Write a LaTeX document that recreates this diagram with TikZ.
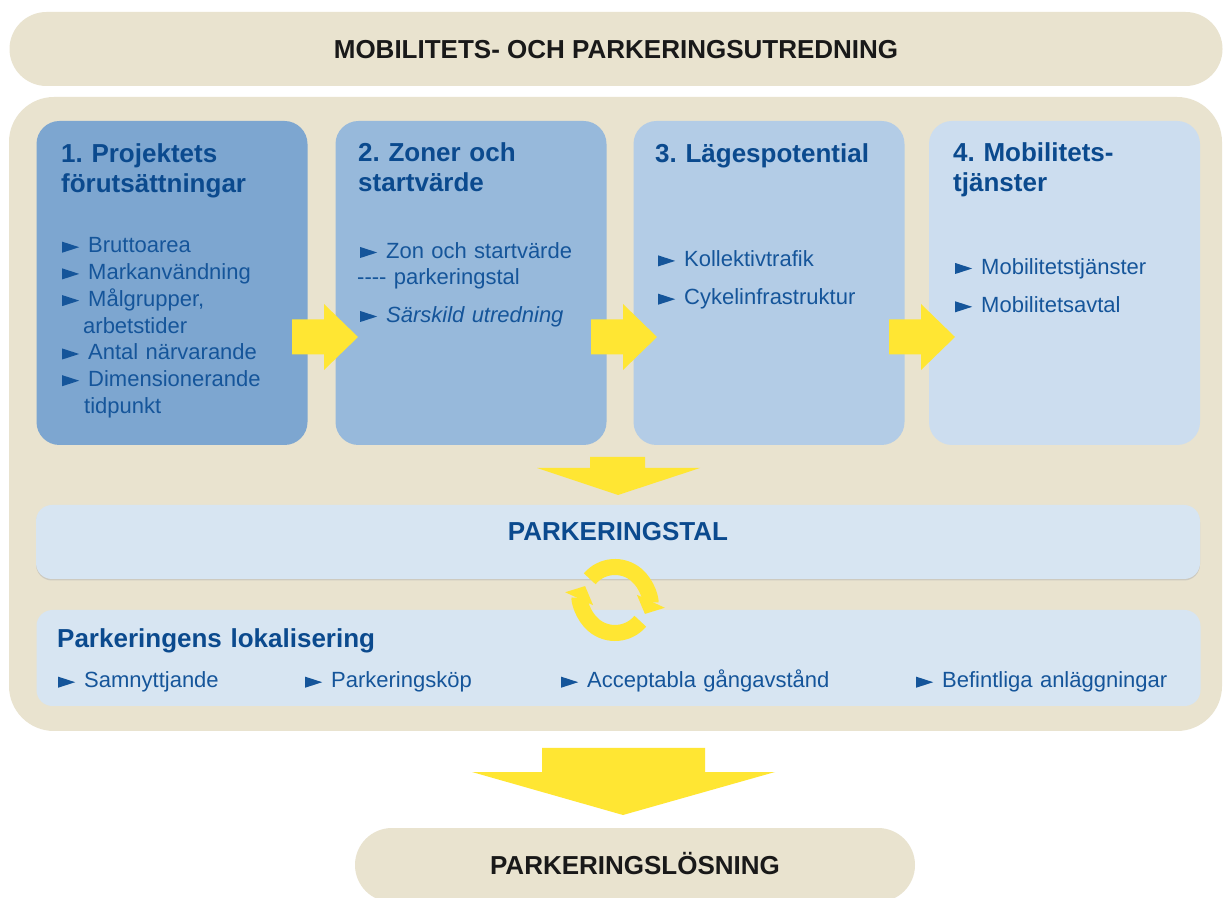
\documentclass[tikz,border=0pt]{standalone}
\usepackage{fontspec}
\setmainfont{Liberation Sans}
\usetikzlibrary{arrows.meta,shadows}
\frenchspacing

\definecolor{sand}{HTML}{E9E3CF}
\definecolor{stepone}{HTML}{7DA6D0}
\definecolor{steptwo}{HTML}{97B9DB}
\definecolor{stepthree}{HTML}{B3CCE6}
\definecolor{stepfour}{HTML}{CCDDEF}
\definecolor{pale}{HTML}{D7E5F2}
\definecolor{flowyellow}{HTML}{FFE633}
\definecolor{ink}{HTML}{0B4A8E}
\definecolor{listink}{HTML}{15559A}

% bullet of the lists: a wide triangle on the baseline
\newcommand{\pointer}{\tikz[baseline=0pt]\fill[listink] (0pt,0.3pt) -- (17pt,5.8pt) -- (0pt,11.3pt) -- cycle;\hspace{9pt}}

\tikzset{
  pill/.style={fill=sand, rounded corners=37pt, minimum height=74pt, inner sep=0pt,
    text height=18.6pt, text depth=0pt, text=black!90,
    font=\fontsize{26}{30}\selectfont\bfseries},
  stepbox/.style={rounded corners=23pt, minimum width=271pt, minimum height=324pt, inner sep=0pt},
  palebox/.style={fill=pale, rounded corners=16pt, minimum width=1164pt, inner sep=0pt},
  steptitle/.style={anchor=base west, inner sep=0pt, text width=250pt, align=left,
    text=ink, font=\fontsize{26}{30}\selectfont\bfseries},
  steplist/.style={anchor=base west, inner sep=0pt, text width=250pt, align=left,
    text=listink, font=\fontsize{22}{26.7}\selectfont},
  flow/.style={fill=flowyellow},
}

\begin{document}
\begin{tikzpicture}[x=1pt,y=1pt]
  \useasboundingbox (0,0) rectangle (1223,897);
  \fill[white] (0,0) rectangle (1223,897);

  %% heading and result
  \node[pill, minimum width=1213pt] (study) at (616,848) {MOBILITETS- OCH PARKERINGSUTREDNING};
  \node[pill, minimum width=560pt] (solution) at (635,32) {PARKERINGSLÖSNING};

  %% background panel
  \node[fill=sand, rounded corners=45pt, minimum width=1213pt, minimum height=634pt, inner sep=0pt] (panel) at (615.5,483) {};

  %% the four steps
  \node[stepbox, fill=stepone] (proj) at (172,614) {};
  \node[stepbox, fill=steptwo] (zoner) at (471,614) {};
  \node[stepbox, fill=stepthree] (lage) at (769,614) {};
  \node[stepbox, fill=stepfour] (mobil) at (1064.5,614) {};

  \node[steptitle] (projtitle) at (61,734.7) {1. Projektets\\förutsättningar};
  \node[steplist] (projlist) at (62,644) {%
    \pointer Bruttoarea\\
    \pointer Markanvändning\\
    \pointer Målgrupper,\\
    \hspace*{21pt}arbetstider\\
    \pointer Antal närvarande\\
    \pointer Dimensionerande\\
    \hspace*{22pt}tidpunkt};

  \node[steptitle] (zonertitle) at (358,735) {2. Zoner och\\startvärde};
  \node[steplist] (zonerlist) at (360,638.7) {%
    \pointer Zon och startvärde\\
    \hspace*{-3pt}-{}-{}-{}- parkeringstal\\[10.6pt]
    \pointer\textit{Särskild utredning}};

  \node[steptitle] (lagetitle) at (655,734.7) {3. Lägespotential};
  \node[steplist] (lagelist) at (658,630.3) {%
    \pointer Kollektivtrafik\\[11.6pt]
    \pointer Cykelinfrastruktur};

  \node[steptitle] (mobiltitle) at (953,735) {4. Mobilitets-\\tjänster};
  \node[steplist] (mobillist) at (955,622.7) {%
    \pointer Mobilitetstjänster\\[11.6pt]
    \pointer Mobilitetsavtal};

  %% arrows between the steps
  \foreach \x in {292,591,889}
    \fill[flow] (\x,542.5) -- ++(32,0) -- ++(0,-15.5) -- ++(34,33) -- ++(-34,33)
      -- ++(0,-15.5) -- ++(-32,0) -- cycle;

  %% parking ratio
  \fill[flow] (590,440) -- (645,440) -- (645,429) -- (700,429) -- (618,402)
    -- (537,429) -- (590,429) -- cycle;
  \node[palebox, minimum height=74pt, drop shadow={shadow xshift=0pt, shadow yshift=-1.5pt, fill=black!30}] (ratio) at (618,355) {};
  \node[inner sep=0pt, text=ink, font=\fontsize{26}{30}\selectfont\bfseries] (ratiolabel) at (618,365) {PARKERINGSTAL};

  %% location of the parking
  \node[palebox, minimum height=96pt] (place) at (618.5,239) {};
  \node[steptitle, text width=600pt] (placetitle) at (57,249) {Parkeringens lokalisering};
  \node[steplist] (placeA) at (58,209) {\pointer Samnyttjande};
  \node[steplist] (placeB) at (305,209) {\pointer Parkeringsköp};
  \node[steplist, text width=320pt] (placeC) at (561,209) {\pointer Acceptabla gångavstånd};
  \node[steplist, text width=300pt] (placeD) at (916,209) {\pointer Befintliga anläggningar};

  %% iteration symbol
  \draw[flowyellow, line width=16pt, -{Triangle[width=30pt,length=14pt]}]
    (615,297) ++(140:33) arc[start angle=140, end angle=-25, radius=33];
  \draw[flowyellow, line width=16pt, -{Triangle[width=30pt,length=14pt]}]
    (615,297) ++(-40:33) arc[start angle=-40, end angle=-205, radius=33];

  %% towards the solution
  \fill[flow] (542,149) -- (705,149) -- (705,125) -- (775,125) -- (623,82)
    -- (472,125) -- (542,125) -- cycle;
\end{tikzpicture}
\end{document}
